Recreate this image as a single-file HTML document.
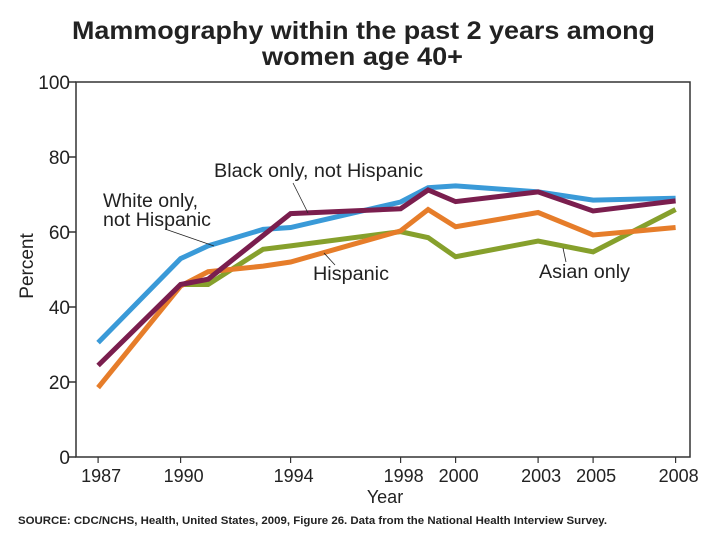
<!DOCTYPE html>
<html><head><meta charset="utf-8"><style>
body{margin:0;background:#fff;width:720px;height:540px;overflow:hidden;font-family:"Liberation Sans",sans-serif}
</style></head><body>
<svg id="chart" width="720" height="540" font-family="Liberation Sans, sans-serif">
<text x="72" y="39" textLength="583" lengthAdjust="spacingAndGlyphs" font-size="25" font-weight="bold" fill="#222">Mammography within the past 2 years among</text>
<text x="262" y="65" textLength="201" lengthAdjust="spacingAndGlyphs" font-size="25" font-weight="bold" fill="#222">women age 40+</text>
<rect x="76" y="82" width="614" height="375" fill="none" stroke="#333" stroke-width="1.5"/>
<g id="yaxis"></g><g id="xaxis"></g><g id="series"></g>
<text x="0" y="0" transform="translate(33,266) rotate(-90)" text-anchor="middle" font-size="19" fill="#222">Percent</text>
<text x="385" y="503" text-anchor="middle" font-size="18" fill="#222">Year</text>
<text x="18" y="524" textLength="589" lengthAdjust="spacingAndGlyphs" font-size="11" font-weight="bold" fill="#222">SOURCE: CDC/NCHS, Health, United States, 2009, Figure 26. Data from the National Health Interview Survey.</text>
<g font-size="19" fill="#222">
<text x="214" y="177" textLength="209" lengthAdjust="spacingAndGlyphs">Black only, not Hispanic</text>
<text x="103" y="207" textLength="95" lengthAdjust="spacingAndGlyphs">White only,</text>
<text x="103" y="226" textLength="108" lengthAdjust="spacingAndGlyphs">not Hispanic</text>
<text x="313" y="280" textLength="76" lengthAdjust="spacingAndGlyphs">Hispanic</text>
<text x="539" y="278" textLength="91" lengthAdjust="spacingAndGlyphs">Asian only</text>
</g>
<g stroke="#222" stroke-width="0.8">
<line x1="293" y1="183" x2="308" y2="213"/>
<line x1="165" y1="229" x2="214" y2="246"/>
<line x1="335" y1="265" x2="324" y2="253"/>
<line x1="566" y1="262" x2="563" y2="248"/>
</g>
</svg>
<script>
const yTicks=[0,20,40,60,80,100];
const xTickYears=[1987,1990,1994,1998,2000,2003,2005,2008];
const whiteYears=[1987,1990,1991,1993,1994,1998,1999,2000,2003,2005,2008];
const whiteVals=[30.5,52.9,56.3,60.7,61.2,68,71.8,72.3,70.7,68.5,69];
const blackYears=[1987,1990,1991,1994,1998,1999,2000,2003,2005,2008];
const blackVals=[24.4,46,47.4,64.9,66.2,71.2,68.1,70.7,65.6,68.3];
const hispYears=[1987,1990,1991,1993,1994,1998,1999,2000,2003,2005,2008];
const hispVals=[18.5,45.6,49.4,50.9,52,60.3,66,61.4,65.2,59.2,61.2];
const asianYears=[1990,1991,1993,1994,1998,1999,2000,2003,2005,2008];
const asianVals=[46,46,55.4,56.3,60.1,58.5,53.4,57.6,54.7,66];
const NS='http://www.w3.org/2000/svg';
const X=yr=>98.1+(yr-1987)*27.5;
const Y=v=>457-v*3.75;
function mk(tag,attrs,parent){const e=document.createElementNS(NS,tag);for(const k in attrs)e.setAttribute(k,attrs[k]);parent.appendChild(e);return e;}
const ya=document.getElementById('yaxis');
yTicks.forEach(v=>{
 const l=mk('line',{x1:69,x2:76,y1:Y(v),y2:Y(v),stroke:'#333','stroke-width':1.5},ya);
 
 
 const t=mk('text',{x:70,y:Y(v)+7,'text-anchor':'end','font-size':19,fill:'#222'},ya);
 t.textContent=v;
 
 
});
const xa=document.getElementById('xaxis');
xTickYears.forEach(yr=>{
 const l=mk('line',{x1:X(yr),x2:X(yr),y1:457,y2:463,stroke:'#333','stroke-width':1.2},xa);
 
 
 const t=mk('text',{x:X(yr)+3,y:482,'text-anchor':'middle','font-size':18,fill:'#222'},xa);
 t.textContent=yr;
 
 
});
const sg=document.getElementById('series');
function line(ys,vs,color,name){
 const p=mk('polyline',{points:ys.map((y,i)=>X(y)+','+Y(vs[i])).join(' '),fill:'none',stroke:color,'stroke-width':5,'stroke-linejoin':'miter'},sg);
 
 
}
line(asianYears,asianVals,'#86a02c','line-asian');
line(hispYears,hispVals,'#e67d2a','line-hispanic');
line(whiteYears,whiteVals,'#3a9ad8','line-white');
line(blackYears,blackVals,'#7a1e4e','line-black');
</script>
</body></html>
